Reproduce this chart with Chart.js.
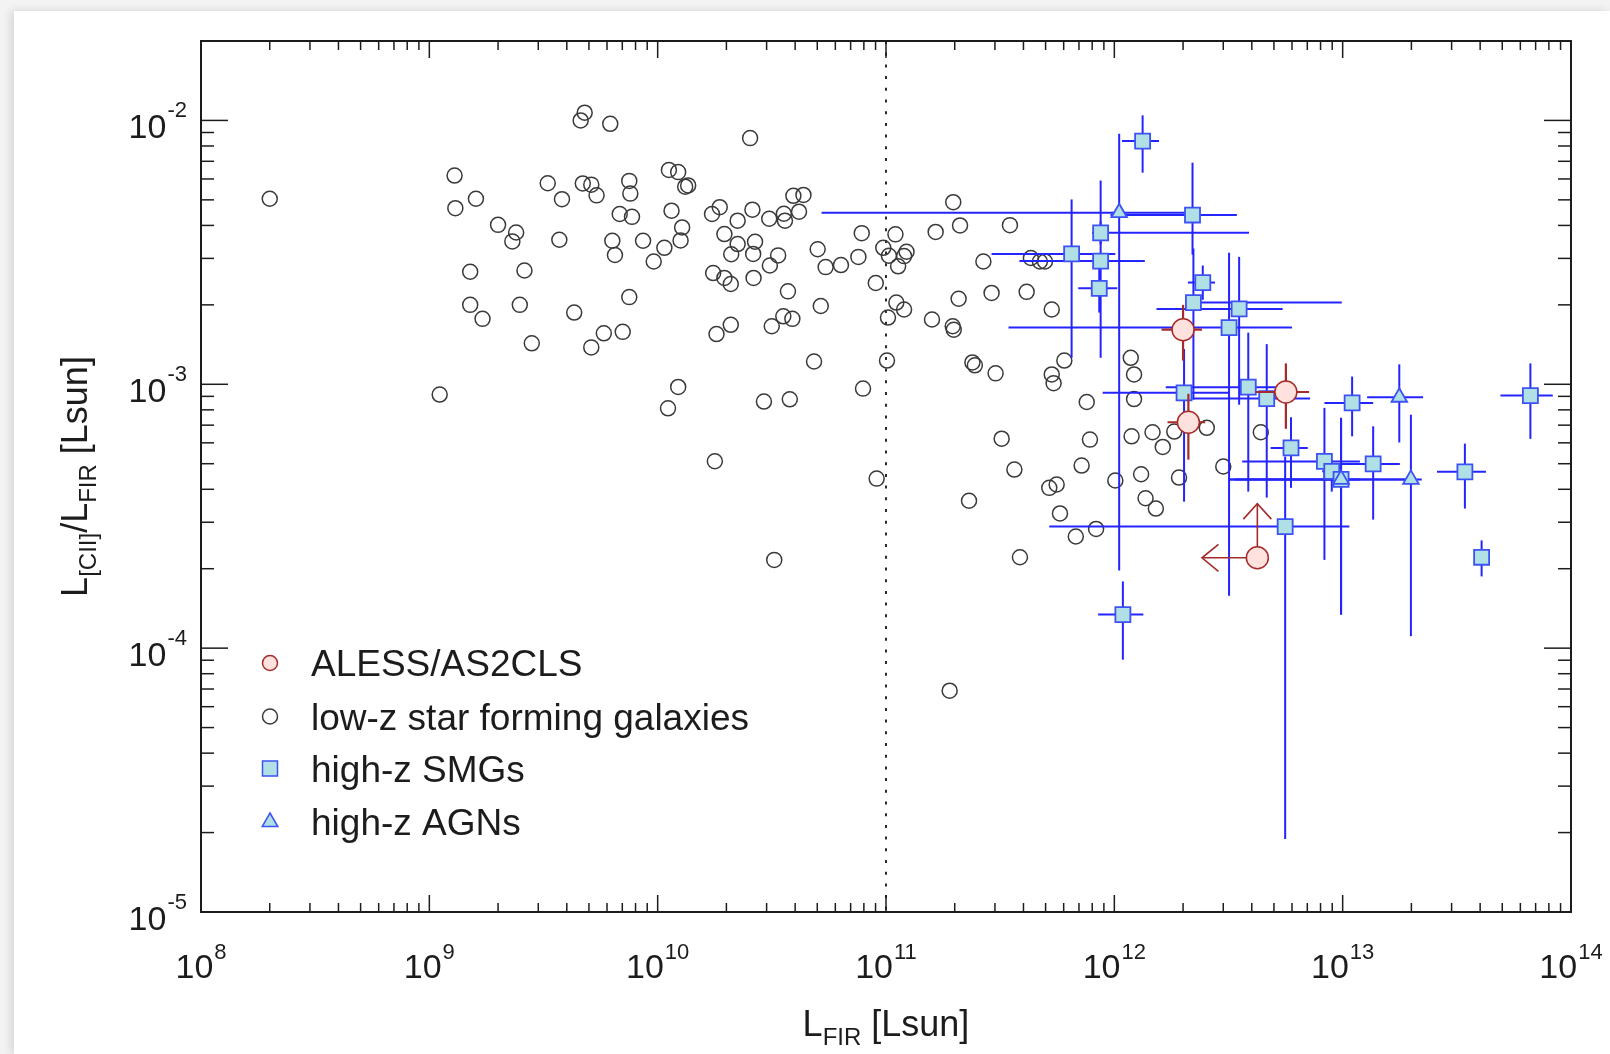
<!DOCTYPE html>
<html>
<head>
<meta charset="utf-8">
<title>[CII] deficit</title>
<script src="https://cdn.jsdelivr.net/npm/chart.js@4.4.0/dist/chart.umd.min.js"></script>
<style>
  html, body { margin: 0; padding: 0; background: #f3f3f3; overflow: hidden; }
  #card { position: absolute; left: 14px; top: 11px; right: 0; bottom: 0; background: #fff;
          box-shadow: -3px 0 9px rgba(0,0,0,0.13); }
  #c { position: absolute; left: 0; top: 0; }
</style>
</head>
<body>
<div id="card"></div>
<canvas id="c" width="1610" height="1054" style="width:1610px;height:1054px"></canvas>
<script>
// ---- data: L_FIR [Lsun] and L[CII]/L_FIR ----
const lowzPoints = [
  [2.0e8,5.05e-3],[1.29e9,6.18e-3],[1.60e9,5.05e-3],[1.30e9,4.65e-3],[2.0e9,4.02e-3],
  [2.40e9,3.76e-3],[2.31e9,3.48e-3],[3.71e9,3.53e-3],[3.30e9,5.78e-3],[3.81e9,5.03e-3],
  [4.79e9,1.07e-2],[4.60e9,1.0e-2],[6.20e9,9.71e-3],[4.70e9,5.77e-3],[5.12e9,5.71e-3],
  [5.40e9,5.20e-3],[7.51e9,5.90e-3],[7.59e9,5.28e-3],[6.82e9,4.42e-3],[7.72e9,4.31e-3],
  [6.33e9,3.50e-3],[6.50e9,3.09e-3],[8.63e9,3.50e-3],[9.61e9,2.92e-3],[1.07e10,3.29e-3],
  [1.15e10,4.55e-3],[1.12e10,6.49e-3],[1.23e10,6.37e-3],[1.51e9,2.67e-3],[2.61e9,2.70e-3],
  [1.51e9,2.00e-3],[1.71e9,1.77e-3],[2.49e9,2.00e-3],[2.81e9,1.43e-3],[4.31e9,1.87e-3],
  [5.81e9,1.56e-3],[7.03e9,1.58e-3],[5.12e9,1.38e-3],[7.51e9,2.14e-3],[1.11e9,9.14e-4],
  [1.23e10,9.77e-4],[1.11e10,8.11e-4],[2.92e10,8.60e-4],[3.79e10,8.77e-4],[7.93e10,9.63e-4],
  [4.84e10,1.22e-3],[1.78e10,5.11e-4],[9.10e10,4.39e-4],[3.24e10,2.16e-4],[2.54e10,8.57e-3],
  [1.32e10,5.61e-3],[1.36e10,5.67e-3],[1.28e10,3.93e-3],[1.26e10,3.51e-3],[1.73e10,4.42e-3],
  [1.87e10,4.69e-3],[2.60e10,4.59e-3],[2.24e10,4.17e-3],[1.96e10,3.71e-3],[3.08e10,4.24e-3],
  [3.57e10,4.43e-3],[3.61e10,4.17e-3],[4.16e10,4.51e-3],[3.93e10,5.18e-3],[4.35e10,5.22e-3],
  [2.24e10,3.40e-3],[2.67e10,3.47e-3],[2.10e10,3.11e-3],[2.62e10,3.12e-3],[3.37e10,3.08e-3],
  [3.10e10,2.82e-3],[1.75e10,2.64e-3],[1.96e10,2.53e-3],[2.09e10,2.40e-3],[2.63e10,2.53e-3],
  [3.72e10,2.25e-3],[5.02e10,3.25e-3],[5.44e10,2.78e-3],[6.35e10,2.83e-3],[5.18e10,1.98e-3],
  [7.83e10,3.74e-3],[7.57e10,3.04e-3],[9.02e10,2.42e-3],[1.10e11,3.70e-3],[9.73e10,3.29e-3],
  [1.03e11,3.07e-3],[1.13e11,2.80e-3],[1.23e11,3.18e-3],[1.20e11,3.06e-3],[1.11e11,2.04e-3],
  [1.20e11,1.92e-3],[1.02e11,1.79e-3],[1.01e11,1.23e-3],[1.65e11,3.78e-3],[2.11e11,4.00e-3],
  [1.97e11,4.90e-3],[3.49e11,4.01e-3],[2.67e11,2.92e-3],[2.08e11,2.11e-3],[1.59e11,1.76e-3],
  [1.96e11,1.66e-3],[1.98e11,1.61e-3],[2.90e11,2.22e-3],[4.13e11,2.24e-3],[5.32e11,1.92e-3],
  [4.31e11,3.01e-3],[4.72e11,2.92e-3],[4.97e11,2.92e-3],[6.04e11,1.23e-3],[2.39e11,1.21e-3],
  [2.45e11,1.18e-3],[3.02e11,1.10e-3],[5.32e11,1.09e-3],[1.18e12,1.26e-3],[1.22e12,1.09e-3],
  [1.81e10,1.55e-3],[2.09e10,1.68e-3],[3.16e10,1.66e-3],[3.55e10,1.81e-3],[3.89e10,1.77e-3],
  [5.42e11,1.01e-3],[7.57e11,8.57e-4],[1.22e12,8.79e-4],[3.21e11,6.22e-4],[7.82e11,6.17e-4],
  [1.19e12,6.35e-4],[1.47e12,6.58e-4],[1.63e12,5.79e-4],[1.83e12,6.62e-4],[2.54e12,6.84e-4],
  [4.38e12,6.58e-4],[3.65e11,4.75e-4],[7.19e11,4.92e-4],[1.01e12,4.32e-4],[1.31e12,4.56e-4],
  [1.92e12,4.43e-4],[3.00e12,4.88e-4],[5.19e11,4.05e-4],[5.59e11,4.17e-4],[2.31e11,3.62e-4],
  [5.78e11,3.24e-4],[1.37e12,3.70e-4],[1.52e12,3.38e-4],[8.32e11,2.83e-4],[6.78e11,2.65e-4],
  [3.86e11,2.21e-4],[1.90e11,6.9e-5]
];

const smgL = [1.33e12, 2.20e12, 8.71e11, 6.50e11, 8.71e11, 8.59e11, 2.44e12, 2.22e12,
  3.52e12, 3.18e12, 2.02e12, 3.86e12, 4.65e12, 5.94e12, 1.10e13, 8.32e12, 1.36e13,
  8.96e12, 9.84e12, 3.43e13, 6.64e13, 4.06e13, 5.60e12, 1.09e12];
const smgR = [8.35e-3, 4.38e-3, 3.75e-3, 3.12e-3, 2.93e-3, 2.31e-3, 2.43e-3, 2.04e-3,
  1.93e-3, 1.64e-3, 9.28e-4, 9.75e-4, 8.83e-4, 5.74e-4, 8.50e-4, 5.10e-4, 4.99e-4,
  4.68e-4, 4.36e-4, 4.66e-4, 9.06e-4, 2.21e-4, 2.89e-4, 1.34e-4];
const smgLErr = [[1.08e12,1.57e12],[9.62e11,3.44e12],[7.98e11,3.89e12],[2.90e11,1.01e12],
  [3.84e11,1.36e12],[6.95e11,1.03e12],[2.10e12,2.76e12],[2.04e12,9.91e12],[1.53e12,5.46e12],
  [3.44e11,6.00e12],[8.89e11,3.18e12],[1.68e12,5.10e12],[2.20e12,7.20e12],[4.84e12,7.03e12],
  [8.32e12,1.36e13],[3.63e12,1.19e13],[9.73e12,1.78e13],[8.13e12,9.73e12],[3.21e12,1.19e13],
  [2.59e13,4.24e13],[4.91e13,8.32e13],[4.06e13,4.06e13],[5.19e11,1.07e13],[8.49e11,1.34e12]];
const smgRErr = [[6.34e-3,1.045e-2],[3.10e-3,6.92e-3],[3.39e-3,4.14e-3],[1.26e-3,5.02e-3],
  [1.26e-3,5.92e-3],[1.87e-3,2.77e-3],[2.09e-3,2.82e-3],[8.75e-4,3.27e-3],[8.37e-4,3.04e-3],
  [1.58e-4,3.15e-3],[3.59e-4,1.36e-3],[3.92e-4,1.57e-3],[3.72e-4,1.42e-3],[4.05e-4,7.50e-4],
  [6.35e-4,1.07e-3],[2.16e-4,8.14e-4],[3.07e-4,6.93e-4],[3.92e-4,5.18e-4],[1.34e-4,7.46e-4],
  [3.38e-4,5.96e-4],[6.21e-4,1.20e-3],[1.87e-4,2.56e-4],[1.89e-5,5.33e-4],[9.04e-5,1.79e-4]];

const agnL = [1.05e12, 9.84e12, 1.99e13, 1.77e13];
const agnR = [4.47e-3, 4.36e-4, 4.36e-4, 8.93e-4];
const agnLErr = [[5.22e10,2.04e12],[3.15e12,2.0e13],[3.38e12,2.22e13],[1.28e13,2.25e13]];
const agnRErr = [[1.97e-4,8.91e-3],[1.34e-4,7.46e-4],[1.11e-4,7.67e-4],[6.02e-4,1.19e-3]];

const alessL = [2.00e12, 5.64e12, 2.11e12];
const alessR = [1.61e-3, 9.35e-4, 7.18e-4];
const alessLErr = [[1.61e12,2.42e12],[4.16e12,7.13e12],[1.71e12,2.50e12]];
const alessRErr = [[1.23e-3,2.00e-3],[6.78e-4,1.20e-3],[5.18e-4,9.2e-4]];
// limit: arrows run from the point to these values
const alessLimL = [4.23e12];
const alessLimR = [2.20e-4];
const alessLimToL = [2.42e12];
const alessLimToR = [3.53e-4];

const lirgLine = 1e11;
const xTickExps = [8, 9, 10, 11, 12, 13, 14];
const yTickExps = [-5, -4, -3, -2];
const legendLabels = ['ALESS/AS2CLS', 'low-z star forming galaxies', 'high-z SMGs', 'high-z AGNs'];

// ---- styles ----
const FONT = "'Liberation Sans', Arial, Helvetica, sans-serif";
const INK = '#1c1c1c';
const BLUE = '#2424ff';
const SQ_FILL = '#b0e0e6';
const SQ_EDGE = '#3c52f5';
const RED = '#a52a2a';
const PINK = '#ffe2de';

function seg(ctx, pts) {
  ctx.beginPath();
  ctx.moveTo(pts[0], pts[1]);
  for (let i = 2; i < pts.length; i += 2) ctx.lineTo(pts[i], pts[i + 1]);
  ctx.stroke();
}

function drawErrorBars(chart, xs, ys, xe, ye, color, width) {
  const { ctx, scales: { x, y } } = chart;
  ctx.save();
  ctx.strokeStyle = color;
  ctx.lineWidth = width;
  ctx.lineCap = 'butt';
  for (let i = 0; i < xs.length; i++) {
    const cx = x.getPixelForValue(xs[i]);
    const cy = y.getPixelForValue(ys[i]);
    const x0 = x.getPixelForValue(xe[i][0]), x1 = x.getPixelForValue(xe[i][1]);
    const y0 = y.getPixelForValue(ye[i][0]), y1 = y.getPixelForValue(ye[i][1]);
    if (Math.abs(x1 - x0) > 0.5) seg(ctx, [x0, cy, x1, cy]);
    if (Math.abs(y1 - y0) > 0.5) seg(ctx, [cx, y0, cx, y1]);
  }
  ctx.restore();
}

function drawPower(ctx, exp, px, baseY, supY, align) {
  ctx.font = '34px ' + FONT;
  const w1 = ctx.measureText('10').width;
  ctx.font = '22px ' + FONT;
  const w2 = ctx.measureText(String(exp)).width;
  const total = w1 + 1 + w2;
  const start = align === 'center' ? px - total / 2 : px - total;
  ctx.font = '34px ' + FONT;
  ctx.fillText('10', start, baseY);
  ctx.font = '22px ' + FONT;
  ctx.fillText(String(exp), start + w1 + 1, supY);
}

// pieces: [text, isSubscript]
function drawRich(ctx, pieces, cx, base, big, small, drop) {
  let total = 0;
  const widths = pieces.map(([t, sub]) => {
    ctx.font = (sub ? small : big) + 'px ' + FONT;
    const w = ctx.measureText(t).width;
    total += w;
    return w;
  });
  let xpos = cx - total / 2;
  pieces.forEach(([t, sub], i) => {
    ctx.font = (sub ? small : big) + 'px ' + FONT;
    ctx.fillText(t, xpos, base + (sub ? drop : 0));
    xpos += widths[i];
  });
}

const figurePlugin = {
  id: 'figure',
  beforeDatasetsDraw(chart) {
    const { ctx, chartArea: a, scales: { x } } = chart;
    const p = x.getPixelForValue(lirgLine);
    ctx.save();
    ctx.strokeStyle = '#2a2a2a';
    ctx.lineWidth = 2;
    ctx.setLineDash([3, 8.7]);
    seg(ctx, [p, a.top, p, a.bottom]);
    ctx.restore();
  },
  beforeDatasetDraw(chart, args) {
    if (args.index === 1) {
      drawErrorBars(chart, smgL, smgR, smgLErr, smgRErr, BLUE, 2);
      drawErrorBars(chart, agnL, agnR, agnLErr, agnRErr, BLUE, 2);
    }
    if (args.index === 3) {
      drawErrorBars(chart, alessL, alessR, alessLErr, alessRErr, RED, 2.2);
      const { ctx, scales: { x, y } } = chart;
      ctx.save();
      ctx.strokeStyle = RED;
      ctx.lineWidth = 1.6;
      for (let i = 0; i < alessLimL.length; i++) {
        const cx = x.getPixelForValue(alessLimL[i]);
        const cy = y.getPixelForValue(alessLimR[i]);
        const tx = x.getPixelForValue(alessLimToL[i]);
        const ty = y.getPixelForValue(alessLimToR[i]);
        seg(ctx, [cx, cy, tx, cy]);
        seg(ctx, [tx + 16.5, cy - 13.5, tx, cy, tx + 16.5, cy + 13.5]);
        seg(ctx, [cx, cy, cx, ty]);
        seg(ctx, [cx - 14, ty + 15.5, cx, ty, cx + 14, ty + 15.5]);
      }
      ctx.restore();
    }
  },
  afterDraw(chart) {
    const { ctx, chartArea: a, scales: { x, y } } = chart;
    ctx.save();
    ctx.strokeStyle = INK;
    ctx.lineWidth = 1.5;
    // x ticks, bottom and top, pointing inward
    for (let e = xTickExps[0]; e <= xTickExps[xTickExps.length - 1]; e++) {
      for (let m = 1; m <= 9; m++) {
        if (e === xTickExps[xTickExps.length - 1] && m > 1) break;
        const p = x.getPixelForValue(m * Math.pow(10, e));
        const len = m === 1 ? 17 : 9;
        seg(ctx, [p, a.bottom, p, a.bottom - len]);
        seg(ctx, [p, a.top, p, a.top + len]);
      }
    }
    // y ticks, left and right
    const yMax = y.max;
    for (let e = yTickExps[0]; e <= yTickExps[yTickExps.length - 1]; e++) {
      for (let m = 1; m <= 9; m++) {
        const v = m * Math.pow(10, e);
        if (v >= yMax * 0.999) break;
        const p = y.getPixelForValue(v);
        const len = m === 1 ? 27 : 13;
        seg(ctx, [a.left, p, a.left + len, p]);
        seg(ctx, [a.right, p, a.right - len, p]);
      }
    }
    // frame
    ctx.lineWidth = 2;
    ctx.strokeRect(a.left, a.top, a.right - a.left, a.bottom - a.top);

    // tick labels
    ctx.fillStyle = INK;
    ctx.textBaseline = 'alphabetic';
    ctx.textAlign = 'left';
    xTickExps.forEach(e => {
      const p = x.getPixelForValue(Math.pow(10, e));
      drawPower(ctx, e, p, a.bottom + 66, a.bottom + 47, 'center');
    });
    yTickExps.forEach(e => {
      const p = y.getPixelForValue(Math.pow(10, e));
      drawPower(ctx, e, a.left - 14, p + 18, p - 3, 'right');
    });

    // axis titles
    drawRich(ctx, [['L', false], ['FIR', true], [' [Lsun]', false]],
      x.getPixelForValue(lirgLine), 1036, 36, 24, 9);
    ctx.save();
    ctx.translate(87, (a.top + a.bottom) / 2);
    ctx.rotate(-Math.PI / 2);
    drawRich(ctx, [['L', false], ['[CII]', true], ['/L', false], ['FIR', true], [' [Lsun]', false]],
      0, 0, 36, 24, 9);
    ctx.restore();

    // legend
    const lx = 270, tx = 311;
    const rows = [663, 716.5, 768.5, 821.5];
    ctx.lineWidth = 1.5;
    // ALESS
    ctx.beginPath(); ctx.arc(lx, rows[0], 7.5, 0, Math.PI * 2);
    ctx.fillStyle = PINK; ctx.fill(); ctx.strokeStyle = RED; ctx.stroke();
    // low-z
    ctx.beginPath(); ctx.arc(lx, rows[1], 7.5, 0, Math.PI * 2);
    ctx.strokeStyle = '#3a3a3a'; ctx.stroke();
    // SMG
    ctx.fillStyle = SQ_FILL; ctx.strokeStyle = SQ_EDGE;
    ctx.beginPath(); ctx.rect(lx - 7.5, rows[2] - 7.5, 15, 15); ctx.fill(); ctx.stroke();
    // AGN
    ctx.beginPath();
    ctx.moveTo(lx, rows[3] - 8.5); ctx.lineTo(lx + 7.8, rows[3] + 5); ctx.lineTo(lx - 7.8, rows[3] + 5);
    ctx.closePath(); ctx.fill(); ctx.stroke();
    ctx.fillStyle = INK;
    ctx.font = '37px ' + FONT;
    legendLabels.forEach((t, i) => ctx.fillText(t, tx, rows[i] + 13));
    ctx.restore();
  }
};

const toXY = (xs, ys) => xs.map((v, i) => ({ x: v, y: ys[i] }));

new Chart(document.getElementById('c'), {
  type: 'scatter',
  data: {
    datasets: [
      { label: legendLabels[1], order: 4,
        data: lowzPoints.map(p => ({ x: p[0], y: p[1] })),
        pointStyle: 'circle', pointRadius: 7.5, borderWidth: 1.5,
        borderColor: '#3a3a3a', backgroundColor: 'rgba(0,0,0,0)' },
      { label: legendLabels[2], order: 3,
        data: toXY(smgL, smgR),
        pointStyle: 'rect', pointRadius: 10.6, borderWidth: 1.8,
        borderColor: SQ_EDGE, backgroundColor: SQ_FILL },
      { label: legendLabels[3], order: 2,
        data: toXY(agnL, agnR),
        pointStyle: 'triangle', pointRadius: 9, borderWidth: 1.8,
        borderColor: SQ_EDGE, backgroundColor: SQ_FILL },
      { label: legendLabels[0], order: 1,
        data: toXY(alessL.concat(alessLimL), alessR.concat(alessLimR)),
        pointStyle: 'circle', pointRadius: 11, borderWidth: 1.5,
        borderColor: RED, backgroundColor: PINK }
    ]
  },
  options: {
    responsive: false,
    animation: false,
    devicePixelRatio: 1,
    events: [],
    layout: { padding: { left: 201, right: 39, top: 41, bottom: 142 } },
    scales: {
      x: { type: 'logarithmic', min: 1e8, max: 1e14, display: false },
      y: { type: 'logarithmic', min: 1e-5, max: 2e-2, display: false }
    },
    plugins: { legend: { display: false }, tooltip: { enabled: false } }
  },
  plugins: [figurePlugin]
});
</script>
</body>
</html>
